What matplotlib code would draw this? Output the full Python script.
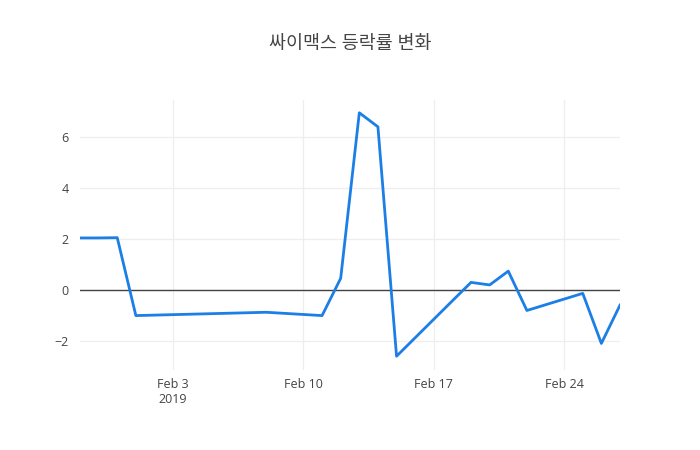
import numpy as np
import pandas as pd
import matplotlib
matplotlib.use("Agg")
from matplotlib import pyplot as plt
import matplotlib.dates as mdates

plt.rcParams['font.family'] = ['Open Sans', 'Noto Sans CJK KR', 'DejaVu Sans']

# daily change rate (%)
dates = ["2019-01-29", "2019-01-30", "2019-01-31", "2019-02-01", "2019-02-08",
         "2019-02-11", "2019-02-12", "2019-02-13", "2019-02-14", "2019-02-15",
         "2019-02-18", "2019-02-19", "2019-02-20", "2019-02-21", "2019-02-22",
         "2019-02-25", "2019-02-26", "2019-02-27"]
rates = [2.05, 2.05, 2.06, -0.99, -0.86,
         -0.99, 0.47, 6.95, 6.40, -2.58,
         -0.41, 0.31, 0.21, 0.75, -0.79,
         -0.12, -2.08, -0.58]

tick_dates = ["2019-02-03", "2019-02-10", "2019-02-17", "2019-02-24"]
tick_labels = ["Feb 3\n2019", "Feb 10", "Feb 17", "Feb 24"]
y_ticks = [-2, 0, 2, 4, 6]

TITLE = "싸이맥스 등락률 변화"
TEXT_COLOR = "#444444"
LINE_COLOR = "#1b7fe6"

x = pd.to_datetime(dates)

fig = plt.figure(figsize=(7, 4.5), dpi=100)
ax = fig.add_axes([80 / 700, 80 / 450, 540 / 700, 270 / 450])

ax.plot(x, rates, color=LINE_COLOR, linewidth=2, zorder=3)
ax.axhline(0, color=TEXT_COLOR, linewidth=1, zorder=2)

ax.set_xlim(pd.Timestamp("2019-01-29"), pd.Timestamp("2019-02-27"))
ax.set_ylim(-3.12, 7.45)

ax.set_xticks(pd.to_datetime(tick_dates))
ax.set_xticklabels(tick_labels)
ax.set_yticks(y_ticks)
ax.set_yticklabels(["\u22122" if v == -2 else str(v) for v in y_ticks])

ax.grid(True, color="#eeeeee", linewidth=0.9, zorder=0)
for s in ax.spines.values():
    s.set_visible(False)
ax.tick_params(length=0, labelsize=9, labelcolor=TEXT_COLOR, pad=6)
ax.tick_params(axis='y', pad=8)

fig.text(350 / 700, 1 - 44 / 450, TITLE, ha='center', va='center',
         fontsize=13.3, color=TEXT_COLOR)

fig.savefig("out.png", dpi=100, facecolor="white")
